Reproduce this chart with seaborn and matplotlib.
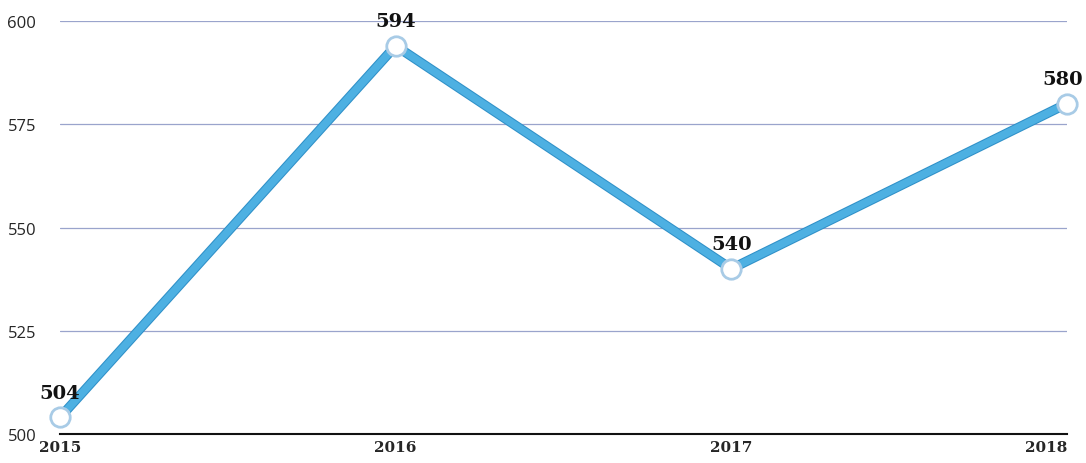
import matplotlib
matplotlib.use('Agg')
import matplotlib.pyplot as plt
import matplotlib.patheffects as pe
import seaborn as sns
import pandas as pd

years = ['2015', '2016', '2017', '2018']
values = [504, 594, 540, 580]
y_ticks = [500, 525, 550, 575, 600]

df = pd.DataFrame({'year': years, 'value': values})
df['pos'] = range(len(df))

sns.set_style('white')
fig = plt.figure(figsize=(10.86, 4.64), dpi=100)
ax = fig.add_axes([0.0552, 0.0625, 0.9273, 0.89])

sns.lineplot(data=df, x='pos', y='value', ax=ax, color='#4db0e2', linewidth=5.5,
             zorder=3, clip_on=False,
             path_effects=[pe.Stroke(linewidth=7, foreground='#2f90c8'), pe.Normal()])
ax.plot(df['pos'], df['value'], linestyle='none', marker='o', markersize=14,
        markerfacecolor='white', markeredgecolor='#a8cbe6', markeredgewidth=2,
        zorder=4, clip_on=False)

for x, v in zip(df['pos'], df['value']):
    dx = -0.012 if x == len(years) - 1 else 0
    ax.text(x + dx, v + 3.8, str(v), ha='center', va='bottom', fontsize=14,
            fontweight='bold', family='DejaVu Serif', color='#111111')

ax.set_xlim(0, len(years) - 1)
ax.set_ylim(500, 600)
ax.set_yticks(y_ticks)
ax.set_xticks(df['pos'])
ax.set_xticklabels(years, family='DejaVu Serif', fontweight='bold', fontsize=11)
ax.get_xticklabels()[-1].set_horizontalalignment('right')
ax.get_xticklabels()[-1].set_x(3.01)
ax.tick_params(axis='y', labelsize=12, length=0, pad=17)
ax.tick_params(axis='x', length=0, pad=4)
for lbl in ax.get_yticklabels():
    lbl.set_family('Open Sans')
ax.set_xlabel('')
ax.set_ylabel('')

for t in y_ticks[1:]:
    ax.axhline(t, color='#9aa4cc', linewidth=0.9, zorder=1)

for side in ['top', 'right', 'left']:
    ax.spines[side].set_visible(False)
ax.spines['bottom'].set_color('#111111')
ax.spines['bottom'].set_linewidth(1.5)

fig.savefig('out.png', dpi=100)
